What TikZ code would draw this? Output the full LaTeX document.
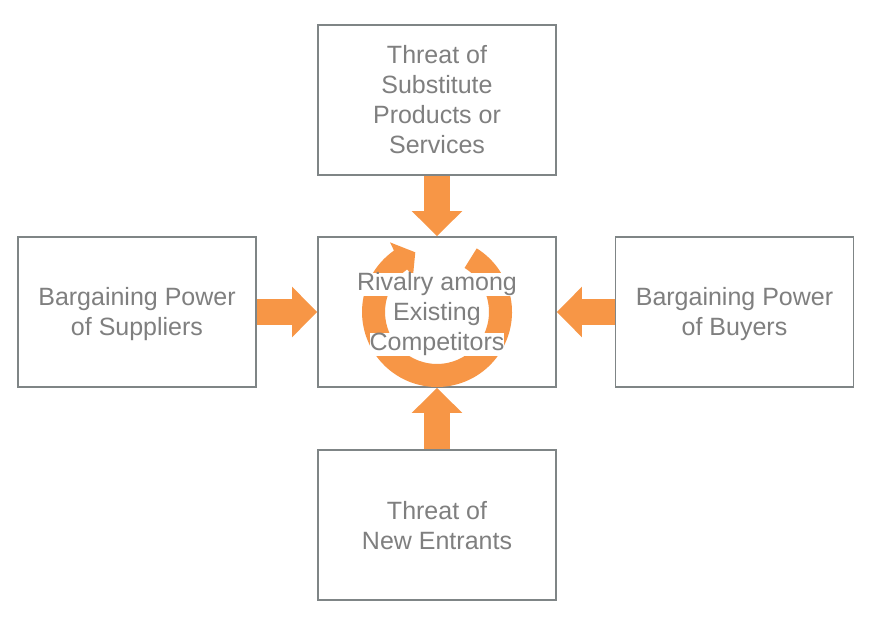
\documentclass[tikz,border=0pt]{standalone}
\usepackage{fontspec}
\setmainfont{Liberation Sans}
\usetikzlibrary{calc,arrows.meta}
\definecolor{forcegray}{RGB}{127,127,127}
\definecolor{framegray}{RGB}{127,133,134}
\definecolor{forceorange}{RGB}{247,150,70}
\newcommand{\wline}[1]{{\setlength{\fboxsep}{0pt}\colorbox{white}{#1}}}
\newcommand{\fstrut}{\rule[-6pt]{0pt}{30pt}}
\tikzset{
	forcetext/.style={text=forcegray, align=center, font=\fontsize{25}{30}\selectfont, inner sep=0pt},
	forcebox/.style={forcetext, draw=framegray, line width=1.8pt, fill=white, minimum width=238pt, minimum height=150pt},
	fatarrow/.style={forceorange, line width=26pt, -{Triangle[length=25pt, width=49pt]}}
}

\begin{document}
\begin{tikzpicture}[x=1pt, y=1pt]
	\useasboundingbox (0,0) rectangle (874,637);
	\node[forcebox] (riv) at (437,325) {};
	\node[forcebox] (sub) at (437,537) {\fstrut Threat of\\Substitute\\Products or\\Services\fstrut};
	\node[forcebox] (sup) at (137,325) {\fstrut Bargaining Power\\of Suppliers\fstrut};
	\node[forcebox] (buy) at (734.5,325) {\fstrut Bargaining Power\\of Buyers\fstrut};
	\node[forcebox] (ent) at (437,112) {\fstrut Threat of\\New Entrants\fstrut};
	\fill[forceorange] ($(riv.center)+(58:75)$) arc[start angle=58, end angle=-235, radius=75]
		-- ($(riv.center)+(124:84)$) -- ($(riv.center)+(110:63.5)$) -- ($(riv.center)+(124:43)$)
		-- ($(riv.center)+(125:52)$) arc[start angle=125, end angle=418, radius=52] -- cycle;
	\node[forcetext] (rivtext) at (riv.center)
		{\fstrut\wline{Rivalry among}\\\wline{Existing}\\\wline{Competitors}\fstrut};
	\draw[fatarrow] (sub.south) -- (riv.north);
	\draw[fatarrow] (ent.north) -- (riv.south);
	\draw[fatarrow] (sup.east) -- (riv.west);
	\draw[fatarrow] (buy.west) -- (riv.east);
\end{tikzpicture}
\end{document}
